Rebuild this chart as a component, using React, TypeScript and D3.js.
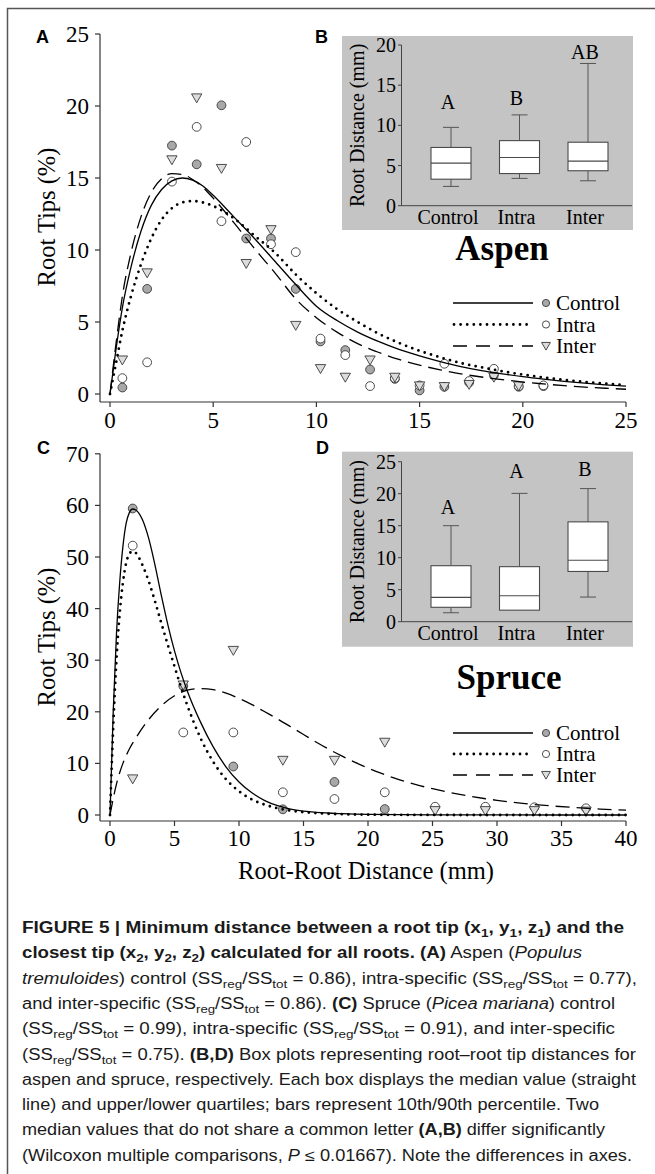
import React from 'react';
import * as d3 from 'd3';

// ---------- Panel A (Aspen) scatter data ----------
const aspenX = [0.6, 1.8, 3.0, 4.2, 5.4, 6.6, 7.8, 9.0, 10.2, 11.4, 12.6, 13.8, 15.0, 16.2, 17.4, 18.6, 19.8, 21.0];
const aspenControl = [0.45, 7.3, 17.25, 15.95, 20.05, 10.8, 10.8, 7.3, 3.65, 3.05, 1.7, 1.05, 0.25, 0.5, 0.8, 1.3, 0.5, 0.55];
const aspenIntra = [1.1, 2.2, 14.75, 18.55, 12.0, 17.5, 10.4, 9.85, 3.85, 2.7, 0.55, 1.1, 0.6, 2.1, 0.9, 1.75, 0.55, 0.6];
const aspenInter = [2.4, 8.45, 16.3, 20.6, 15.7, 9.1, 11.45, 4.8, 1.8, 1.2, 2.4, 1.2, 0.6, 0.55, 0.7, 1.2, 0.6, null];

// fitted curves
const aspenCurveX = [0, 0.3, 0.6, 1, 1.5, 2, 2.5, 3, 3.5, 4, 4.5, 5, 6, 7, 8, 9, 10, 11, 12, 13, 14, 15, 16, 17, 18, 19, 20, 21, 22, 23, 24, 25];
const aspenCurveControl = [0, 3.2, 6.0, 8.7, 11.3, 13.1, 14.2, 14.8, 15.0, 14.85, 14.45, 13.8, 12.3, 10.8, 9.2, 7.6, 6.1, 5.1, 4.3, 3.65, 3.1, 2.65, 2.25, 1.9, 1.62, 1.4, 1.2, 1.03, 0.88, 0.75, 0.64, 0.55];
const aspenCurveIntra = [0, 2.2, 4.4, 6.7, 9.0, 10.8, 12.1, 12.9, 13.3, 13.4, 13.3, 13.05, 12.2, 11.0, 9.8, 8.3, 7.0, 5.9, 5.0, 4.2, 3.55, 3.0, 2.55, 2.15, 1.85, 1.58, 1.35, 1.15, 0.98, 0.84, 0.72, 0.62];
const aspenCurveInter = [0, 3.6, 6.8, 9.7, 12.3, 14.0, 14.95, 15.3, 15.25, 14.9, 14.35, 13.6, 11.9, 10.1, 8.4, 6.6, 5.3, 4.3, 3.5, 2.9, 2.4, 2.0, 1.68, 1.4, 1.18, 1.0, 0.83, 0.7, 0.58, 0.48, 0.4, 0.33];

const aspenXTicks = [0, 5, 10, 15, 20, 25];
const aspenYTicks = [0, 5, 10, 15, 20, 25];

// ---------- Panel C (Spruce) scatter data ----------
const spruceX = [1.76, 5.68, 9.56, 13.4, 17.4, 21.3, 25.2, 29.1, 32.9, 36.9];
const spruceControl = [59.4, 25.0, 9.4, 1.1, 6.4, 1.15, null, null, null, null];
const spruceIntra = [52.2, 16.0, 16.0, 4.4, 3.1, 4.4, 1.6, 1.6, 1.5, 1.3];
const spruceInter = [7.1, 25.3, 32.0, 10.7, 10.7, 14.2, 0.95, 0.95, 0.95, 0.85];

const spruceCurveX = [0, 0.25, 0.5, 0.75, 1, 1.25, 1.5, 1.75, 2, 2.5, 3, 3.5, 4, 4.5, 5, 5.5, 6, 7, 8, 9, 10, 11, 12, 13, 14, 15, 16, 18, 20, 25, 30, 35, 40];
const spruceCurveControl = [0, 20, 35, 45, 52, 56.5, 58.6, 59.3, 59.1, 57.3, 53.6, 48.3, 42.3, 36.7, 31.8, 27.6, 24.0, 18.1, 13.2, 9.3, 6.4, 4.3, 2.8, 1.8, 1.15, 0.75, 0.5, 0.25, 0.12, 0.03, 0.01, 0, 0];
const spruceCurveIntra = [0, 17, 30, 39, 45, 48.8, 50.6, 51.1, 50.8, 48.5, 45.3, 41.3, 37.0, 32.8, 28.8, 24.8, 21.2, 15.0, 10.3, 6.9, 4.6, 3.0, 2.0, 1.3, 0.85, 0.55, 0.36, 0.15, 0.07, 0.01, 0, 0, 0];
const spruceInterCurveX = [0, 0.5, 1, 1.5, 2, 3, 4, 5, 6, 7, 8, 9, 10, 11, 12, 13, 14, 15, 16, 17, 18, 19, 20, 21, 22, 23, 24, 25, 26, 27, 28, 29, 30, 32, 34, 36, 38, 40];
const spruceCurveInter = [0, 6, 10, 12.8, 14.9, 18.5, 21.2, 23.1, 24.2, 24.5, 24.3, 23.6, 22.6, 21.4, 20.0, 18.6, 17.1, 15.6, 14.1, 12.7, 11.4, 10.2, 9.1, 8.1, 7.2, 6.4, 5.7, 5.1, 4.55, 4.05, 3.6, 3.2, 2.85, 2.25, 1.8, 1.45, 1.15, 0.95];

const spruceXTicks = [0, 5, 10, 15, 20, 25, 30, 35, 40];
const spruceYTicks = [0, 10, 20, 30, 40, 50, 60, 70];

// ---------- Box plots ----------
const boxCategories = ['Control', 'Intra', 'Inter'];
// [p10, q1, median, q3, p90]
const aspenBoxes = [
  [2.4, 3.3, 5.3, 7.25, 9.75],
  [3.4, 4.0, 6.0, 8.1, 11.3],
  [3.1, 4.35, 5.55, 7.9, 17.7],
];
const aspenLetters = ['A', 'B', 'AB'];
const aspenLetterY = [12.0, 12.5, 18.3];
const aspenBoxTicks = [0, 5, 10, 15, 20];

const spruceBoxes = [
  [1.4, 2.25, 3.8, 8.75, 15.0],
  [1.8, 1.8, 4.05, 8.6, 20.05],
  [3.85, 7.85, 9.6, 15.6, 20.8],
];
const spruceLetters = ['A', 'A', 'B'];
const spruceLetterY = [16.9, 22.4, 22.7];
const spruceBoxTicks = [0, 5, 10, 15, 20, 25];

const legendLabels = ['Control', 'Intra', 'Inter'];

const SERIF = "'Liberation Serif', 'Times New Roman', serif";
const SANS = "'Liberation Sans', Arial, sans-serif";

const GRAY_FILL = '#a8a8a8';
const TRI_FILL = '#dcdcdc';
const MK_STROKE = '#3a3a3a';

type Seg = { t: string; b?: boolean; i?: boolean; sub?: boolean };

const captionLines: Seg[][] = [
  [{ t: 'FIGURE 5 | Minimum distance between a root tip (x', b: true }, { t: '1', b: true, sub: true }, { t: ', y', b: true }, { t: '1', b: true, sub: true }, { t: ', z', b: true }, { t: '1', b: true, sub: true }, { t: ') and the', b: true }],
  [{ t: 'closest tip (x', b: true }, { t: '2', b: true, sub: true }, { t: ', y', b: true }, { t: '2', b: true, sub: true }, { t: ', z', b: true }, { t: '2', b: true, sub: true }, { t: ') calculated for all roots. (A)', b: true }, { t: ' Aspen (' }, { t: 'Populus', i: true }],
  [{ t: 'tremuloides', i: true }, { t: ') control (SS' }, { t: 'reg', sub: true }, { t: '/SS' }, { t: 'tot', sub: true }, { t: ' = 0.86), intra-specific (SS' }, { t: 'reg', sub: true }, { t: '/SS' }, { t: 'tot', sub: true }, { t: ' = 0.77),' }],
  [{ t: 'and inter-specific (SS' }, { t: 'reg', sub: true }, { t: '/SS' }, { t: 'tot', sub: true }, { t: ' = 0.86). ' }, { t: '(C)', b: true }, { t: ' Spruce (' }, { t: 'Picea mariana', i: true }, { t: ') control' }],
  [{ t: '(SS' }, { t: 'reg', sub: true }, { t: '/SS' }, { t: 'tot', sub: true }, { t: ' = 0.99), intra-specific (SS' }, { t: 'reg', sub: true }, { t: '/SS' }, { t: 'tot', sub: true }, { t: ' = 0.91), and inter-specific' }],
  [{ t: '(SS' }, { t: 'reg', sub: true }, { t: '/SS' }, { t: 'tot', sub: true }, { t: ' = 0.75). ' }, { t: '(B,D)', b: true }, { t: ' Box plots representing root\u2013root tip distances for' }],
  [{ t: 'aspen and spruce, respectively. Each box displays the median value (straight' }],
  [{ t: 'line) and upper/lower quartiles; bars represent 10th/90th percentile. Two' }],
  [{ t: 'median values that do not share a common letter ' }, { t: '(A,B)', b: true }, { t: ' differ significantly' }],
  [{ t: '(Wilcoxon multiple comparisons, ' }, { t: 'P', i: true }, { t: ' \u2264 0.01667). Note the differences in axes.' }],
];
const captionWidths = [602, 560, 615, 593, 593, 614, 614, 577, 583, 610];

function Markers({ xs, ys, kind, xs_, ys_, r = 4.4 }: any) {
  const pts = xs.map((x: number, i: number) => [x, ys[i]]).filter((p: any) => p[1] !== null);
  if (kind === 'tri') {
    const sym = d3.symbol().type(d3.symbolTriangle).size(46)();
    return (
      <g>
        {pts.map((p: any, i: number) => (
          <path key={i} d={sym as string} transform={`translate(${xs_(p[0])},${ys_(p[1]) - 0.5}) rotate(180)`} fill={TRI_FILL} stroke={MK_STROKE} strokeWidth={0.9} />
        ))}
      </g>
    );
  }
  return (
    <g>
      {pts.map((p: any, i: number) => (
        <circle key={i} cx={xs_(p[0])} cy={ys_(p[1])} r={r} fill={kind === 'gray' ? GRAY_FILL : '#fff'} stroke={MK_STROKE} strokeWidth={0.9} />
      ))}
    </g>
  );
}

function Curve({ xs, ys, xs_, ys_, style }: any) {
  const line = d3.line<number>()
    .x((d, i) => xs_(xs[i]))
    .y((d) => ys_(d))
    .curve(d3.curveMonotoneX);
  const d = line(ys) as string;
  if (style === 'dot') return <path d={d} fill="none" stroke="#000" strokeWidth={2.8} strokeDasharray="0 6.6" strokeLinecap="round" />;
  if (style === 'dash') return <path d={d} fill="none" stroke="#000" strokeWidth={1.3} strokeDasharray="14 7" />;
  return <path d={d} fill="none" stroke="#000" strokeWidth={1.3} />;
}

function Legend({ rows }: { rows: number[] }) {
  const x1 = 453, x2 = 533, mx = 546, tx = 556;
  return (
    <g>
      {rows.map((y, i) => (
        <g key={i}>
          {i === 0 && <line x1={x1} x2={x2} y1={y} y2={y} stroke="#000" strokeWidth={1.3} />}
          {i === 1 && <line x1={x1 + 1} x2={x2} y1={y} y2={y} stroke="#000" strokeWidth={2.8} strokeDasharray="0 6.6" strokeLinecap="round" />}
          {i === 2 && <line x1={x1} x2={x2} y1={y} y2={y} stroke="#000" strokeWidth={1.3} strokeDasharray="14 9" />}
          {i === 2 ? (
            <path d={d3.symbol().type(d3.symbolTriangle).size(34)() as string} transform={`translate(${mx},${y - 1}) rotate(180)`} fill={TRI_FILL} stroke={MK_STROKE} strokeWidth={0.9} />
          ) : (
            <circle cx={mx} cy={y} r={3.6} fill={i === 0 ? GRAY_FILL : '#fff'} stroke={MK_STROKE} strokeWidth={0.9} />
          )}
          <text x={tx} y={y + 7} fontFamily={SERIF} fontSize={21}>{legendLabels[i]}</text>
        </g>
      ))}
    </g>
  );
}

function ScatterPanel({ xScale, yScale, xTicks, yTicks, axisY, xLabelY, curves, points, title, titleY }: any) {
  const [x0, x1] = xScale.range();
  const yTop = yScale(yTicks[yTicks.length - 1]);
  return (
    <g>
      <line x1={100} x2={100} y1={yTop} y2={axisY} stroke="#333" strokeWidth={1.2} />
      <line x1={100} x2={x1} y1={axisY} y2={axisY} stroke="#333" strokeWidth={1.2} />
      {yTicks.map((t: number) => (
        <g key={'y' + t}>
          <line x1={95} x2={100} y1={yScale(t)} y2={yScale(t)} stroke="#333" strokeWidth={1.2} />
          <text x={89} y={yScale(t) + 8} textAnchor="end" fontFamily={SERIF} fontSize={23}>{t}</text>
        </g>
      ))}
      {xTicks.map((t: number) => (
        <g key={'x' + t}>
          <line x1={xScale(t)} x2={xScale(t)} y1={axisY} y2={axisY + 5} stroke="#333" strokeWidth={1.2} />
          <text x={xScale(t)} y={xLabelY} textAnchor="middle" fontFamily={SERIF} fontSize={23}>{t}</text>
        </g>
      ))}
      <text transform={`translate(55,${titleY}) rotate(-90)`} textAnchor="middle" fontFamily={SERIF} fontSize={24.5}>{title}</text>
      {points}
      {curves}
    </g>
  );
}

function BoxInset({ top, bottom, yScale, ticks, boxes, letters, letterY }: any) {
  const xs = d3.scalePoint<string>().domain(boxCategories).range([451, 588]);
  const axisY = yScale(0);
  const bw = 40, cw = 16;
  return (
    <g>
      <rect x={342} y={top} width={291} height={bottom - top} fill="#c4c4c4" />
      <line x1={401.5} x2={401.5} y1={yScale(ticks[ticks.length - 1])} y2={axisY} stroke="#444" strokeWidth={1} />
      <line x1={401.5} x2={632} y1={axisY} y2={axisY} stroke="#444" strokeWidth={1} />
      {ticks.map((t: number) => (
        <g key={t}>
          <line x1={398} x2={401.5} y1={yScale(t)} y2={yScale(t)} stroke="#444" strokeWidth={1} />
          <text x={396} y={yScale(t) + 7} textAnchor="end" fontFamily={SERIF} fontSize={20}>{t}</text>
        </g>
      ))}
      <text transform={`translate(364,${(yScale(ticks[ticks.length - 1]) + axisY) / 2}) rotate(-90)`} textAnchor="middle" fontFamily={SERIF} fontSize={20}>Root Distance (mm)</text>
      {boxCategories.map((c, i) => {
        const cx = xs(c) as number;
        const [p10, q1, med, q3, p90] = boxes[i];
        return (
          <g key={c}>
            <line x1={cx} x2={cx} y1={yScale(q3)} y2={yScale(p90)} stroke="#555" strokeWidth={1} />
            <line x1={cx - cw / 2} x2={cx + cw / 2} y1={yScale(p90)} y2={yScale(p90)} stroke="#555" strokeWidth={1} />
            {p10 < q1 && <line x1={cx} x2={cx} y1={yScale(q1)} y2={yScale(p10)} stroke="#555" strokeWidth={1} />}
            {p10 < q1 && <line x1={cx - cw / 2} x2={cx + cw / 2} y1={yScale(p10)} y2={yScale(p10)} stroke="#555" strokeWidth={1} />}
            <rect x={cx - bw / 2} y={yScale(q3)} width={bw} height={yScale(q1) - yScale(q3)} fill="#fff" stroke="#4a4a4a" strokeWidth={1.1} />
            <line x1={cx - bw / 2} x2={cx + bw / 2} y1={yScale(med)} y2={yScale(med)} stroke="#4a4a4a" strokeWidth={1.1} />
            <text x={cx - 3} y={yScale(letterY[i])} textAnchor="middle" fontFamily={SERIF} fontSize={20}>{letters[i]}</text>
            <text x={cx - 3} y={axisY + 18} textAnchor="middle" fontFamily={SERIF} fontSize={20}>{c}</text>
          </g>
        );
      })}
    </g>
  );
}

function Caption() {
  const base = 933;
  const step = 25.3;
  return (
    <g fontFamily={SANS} fontSize={16} fill="#1a1a1a">
      {captionLines.map((segs, li) => {
        let prevSub = false;
        return (
          <text key={li} x={22} y={base + li * step} textLength={captionWidths[li]} lengthAdjust="spacingAndGlyphs">
            {segs.map((s, si) => {
              let dy = 0;
              if (s.sub && !prevSub) dy = 4;
              if (!s.sub && prevSub) dy = -4;
              prevSub = !!s.sub;
              return (
                <tspan key={si} dy={dy || undefined} fontWeight={s.b ? 'bold' : undefined} fontStyle={s.i ? 'italic' : undefined} fontSize={s.sub ? 11.5 : undefined}>{s.t}</tspan>
              );
            })}
          </text>
        );
      })}
    </g>
  );
}

export default function App() {
  const ax = d3.scaleLinear().domain([0, 25]).range([110, 626]);
  const ay = d3.scaleLinear().domain([0, 25]).range([394, 34]);
  const sx = d3.scaleLinear().domain([0, 40]).range([110, 626]);
  const sy = d3.scaleLinear().domain([0, 70]).range([815, 453.8]);
  const bY = d3.scaleLinear().domain([0, 20]).range([205.7, 45]);
  const dY = d3.scaleLinear().domain([0, 25]).range([621.7, 461.7]);

  return (
    <svg width={655} height={1174} style={{ position: 'absolute', left: 0, top: 0, background: '#fff' }}>
      <rect x={0} y={0} width={655} height={1174} fill="#fff" />
      <path d="M7.5,1174 V8.5 H655" fill="none" stroke="#555" strokeWidth={1.5} />

      {/* Panel A */}
      <ScatterPanel
        xScale={ax} yScale={ay} xTicks={aspenXTicks} yTicks={aspenYTicks} axisY={402} xLabelY={428}
        title="Root Tips (%)" titleY={217}
        points={<g>
          <Markers xs={aspenX} ys={aspenControl} kind="gray" xs_={ax} ys_={ay} />
          <Markers xs={aspenX} ys={aspenIntra} kind="open" xs_={ax} ys_={ay} />
          <Markers xs={aspenX} ys={aspenInter} kind="tri" xs_={ax} ys_={ay} />
        </g>}
        curves={<g>
          <Curve xs={aspenCurveX} ys={aspenCurveControl} xs_={ax} ys_={ay} style="solid" />
          <Curve xs={aspenCurveX} ys={aspenCurveIntra} xs_={ax} ys_={ay} style="dot" />
          <Curve xs={aspenCurveX} ys={aspenCurveInter} xs_={ax} ys_={ay} style="dash" />
        </g>}
      />
      <text x={36} y={43} fontFamily={SANS} fontWeight="bold" fontSize={18}>A</text>
      <text x={315} y={43} fontFamily={SANS} fontWeight="bold" fontSize={18}>B</text>
      <BoxInset top={36} bottom={230} yScale={bY} ticks={aspenBoxTicks} boxes={aspenBoxes} letters={aspenLetters} letterY={aspenLetterY} />
      <text x={502} y={260} textAnchor="middle" fontFamily={SERIF} fontWeight="bold" fontSize={35}>Aspen</text>
      <Legend rows={[303, 324.5, 346]} />

      {/* Panel C */}
      <ScatterPanel
        xScale={sx} yScale={sy} xTicks={spruceXTicks} yTicks={spruceYTicks} axisY={821} xLabelY={846}
        title="Root Tips (%)" titleY={637}
        points={<g>
          <Markers xs={spruceX} ys={spruceControl} kind="gray" xs_={sx} ys_={sy} />
          <Markers xs={spruceX} ys={spruceIntra} kind="open" xs_={sx} ys_={sy} />
          <Markers xs={spruceX} ys={spruceInter} kind="tri" xs_={sx} ys_={sy} />
        </g>}
        curves={<g>
          <Curve xs={spruceCurveX} ys={spruceCurveControl} xs_={sx} ys_={sy} style="solid" />
          <Curve xs={spruceCurveX} ys={spruceCurveIntra} xs_={sx} ys_={sy} style="dot" />
          <Curve xs={spruceInterCurveX} ys={spruceCurveInter} xs_={sx} ys_={sy} style="dash" />
        </g>}
      />
      <text x={37} y={454} fontFamily={SANS} fontWeight="bold" fontSize={18}>C</text>
      <text x={316} y={454} fontFamily={SANS} fontWeight="bold" fontSize={18}>D</text>
      <BoxInset top={451.7} bottom={646.7} yScale={dY} ticks={spruceBoxTicks} boxes={spruceBoxes} letters={spruceLetters} letterY={spruceLetterY} />
      <text x={509} y={689} textAnchor="middle" fontFamily={SERIF} fontWeight="bold" fontSize={35}>Spruce</text>
      <Legend rows={[733, 754, 775]} />
      <text x={366} y={879} textAnchor="middle" fontFamily={SERIF} fontSize={24.5}>Root-Root Distance (mm)</text>

      <Caption />
    </svg>
  );
}
